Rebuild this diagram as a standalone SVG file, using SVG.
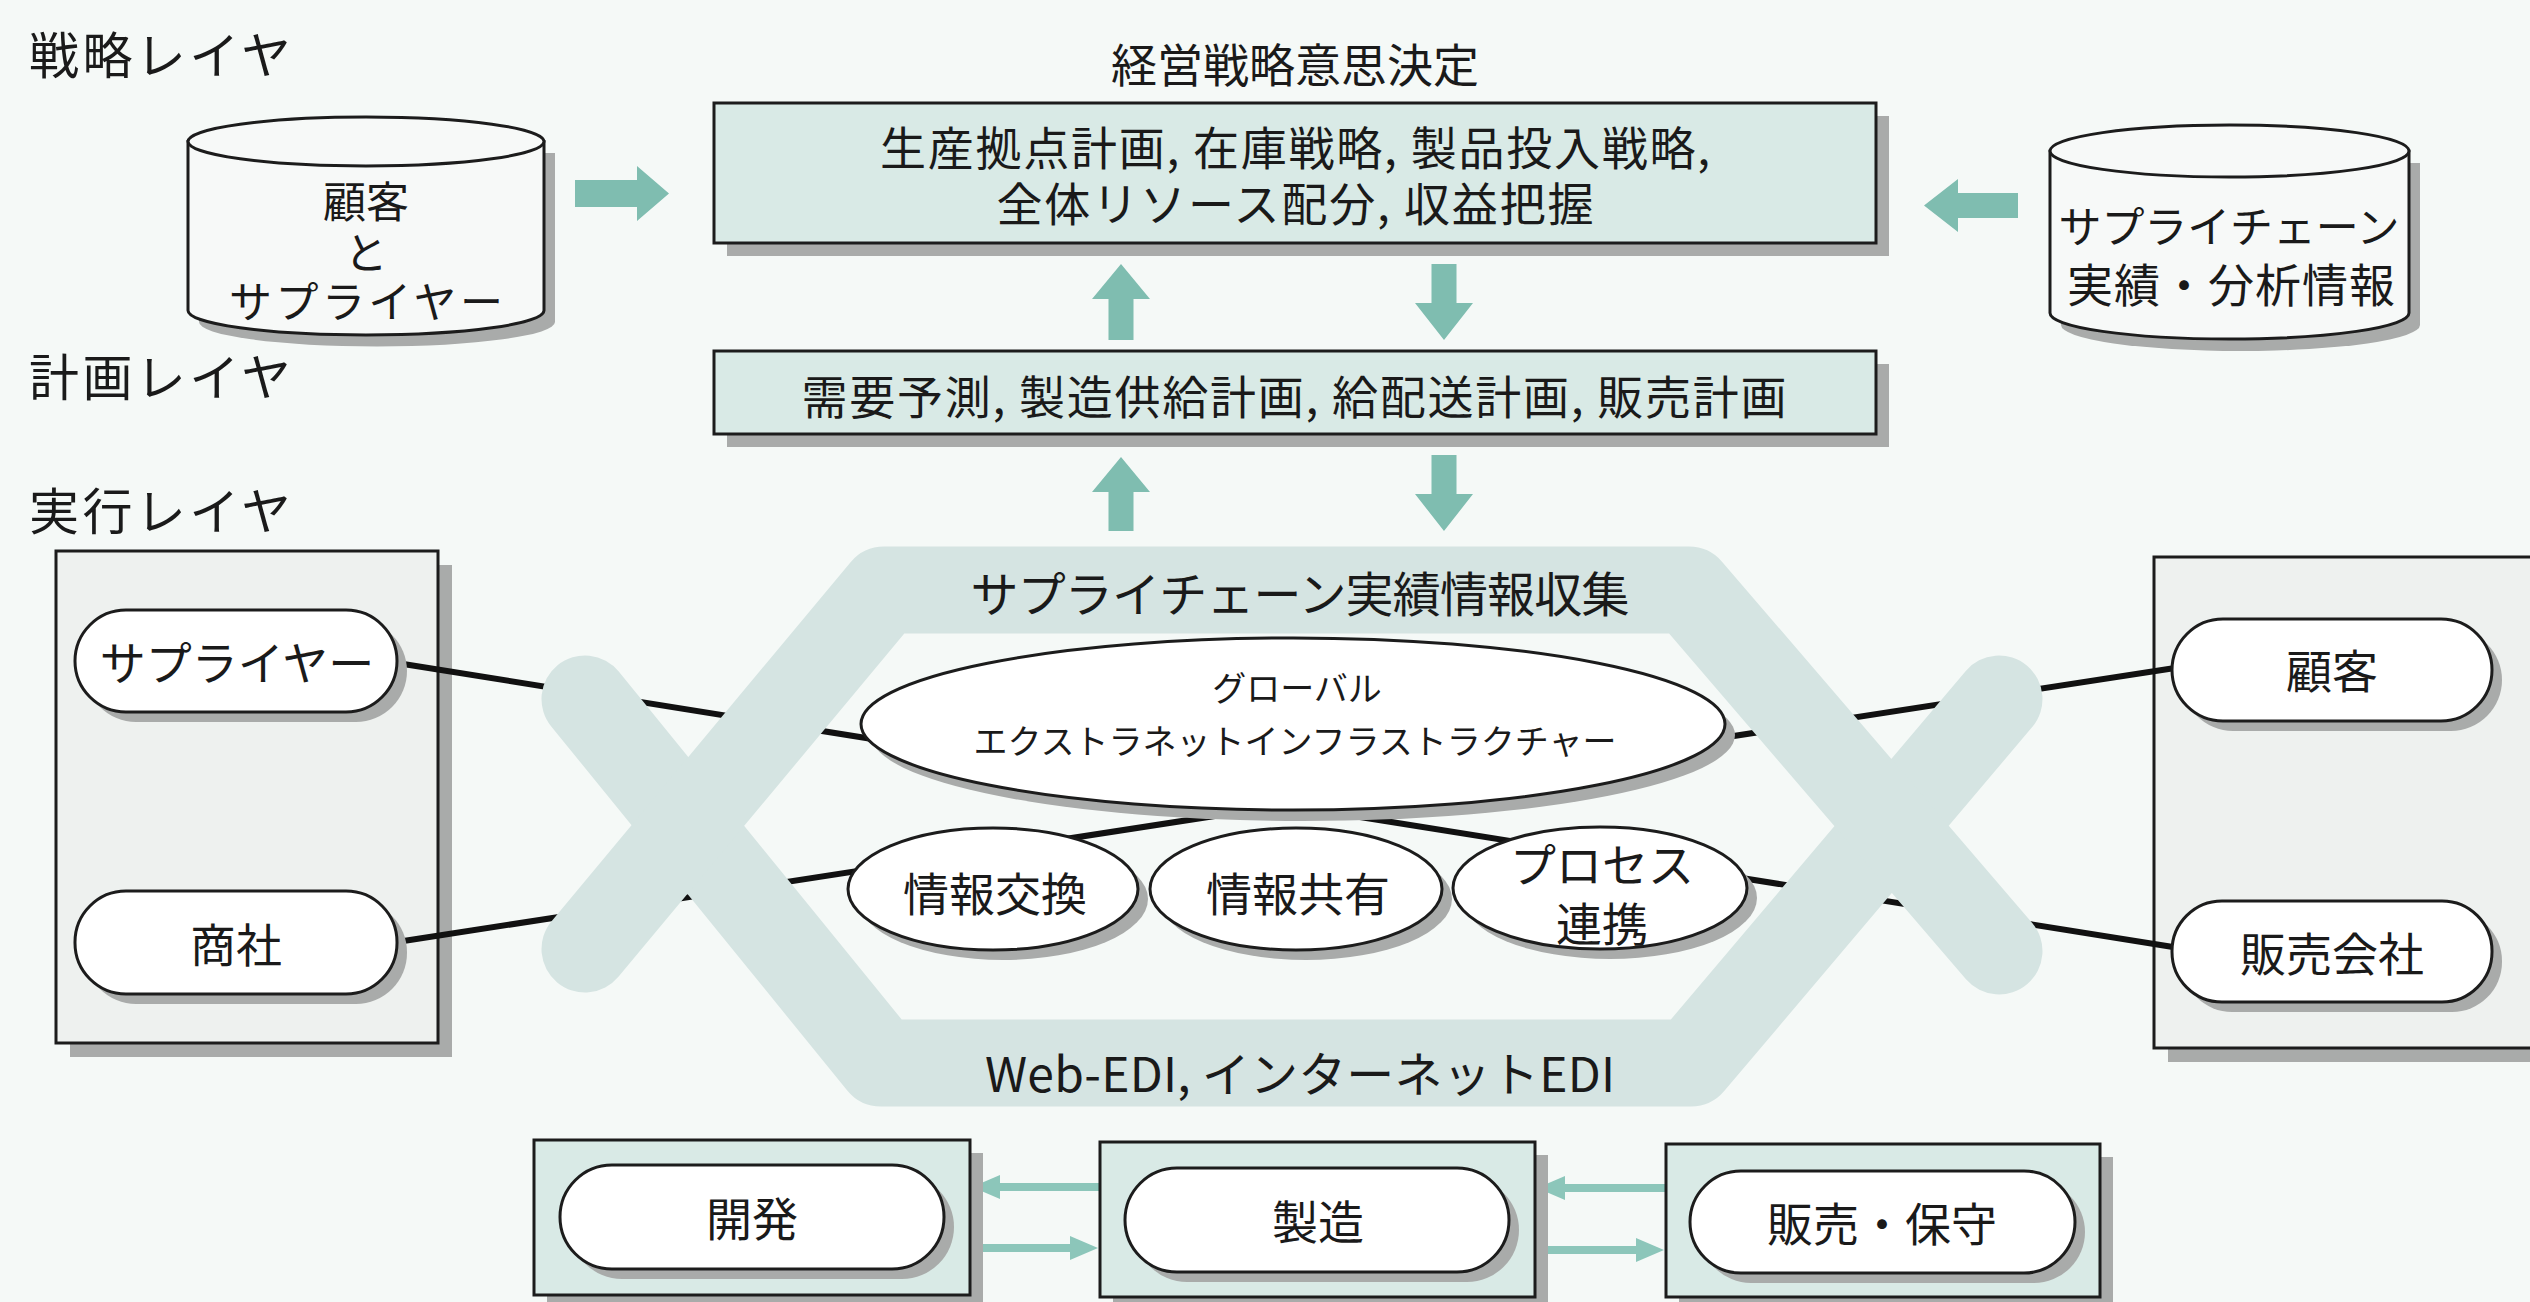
<svg xmlns="http://www.w3.org/2000/svg" width="2530" height="1302" viewBox="0 0 2530 1302">
<defs>
<style>
.bg{fill:#f5f9f7}
.sh{fill:#a9abaa}
.box{fill:#d9eae6;stroke:#1c1c1c;stroke-width:3}
.panel{fill:#eef1ef;stroke:#1c1c1c;stroke-width:3}
.pill{fill:#ffffff;stroke:#1c1c1c;stroke-width:3}
.cyl{fill:#f7f9f8;stroke:#1c1c1c;stroke-width:3}
.t{font-family:"Noto Sans CJK JP","Noto Sans",sans-serif;fill:#1a1a1a;text-anchor:middle;dominant-baseline:central;font-size:46px}
.tl{text-anchor:start;font-size:50px}
.ts{font-size:34px}
.tc{font-size:43px}
.tb{font-size:48px}
.arr{fill:#7fbdb0}
.thin{fill:#8cc6ba}
.band{fill:none;stroke:#d5e4e2;stroke-width:87;stroke-linecap:round;stroke-linejoin:round}
.ln{stroke:#111;stroke-width:6;fill:none}
</style>
</defs>
<rect class="bg" x="0" y="0" width="2530" height="1302"/>

<!-- layer labels -->
<g id="layer-labels">
<text class="t tl" x="29" y="52" textLength="262">戦略レイヤ</text>
<text class="t tl" x="29" y="374" textLength="262">計画レイヤ</text>
<text class="t tl" x="29" y="508" textLength="262">実行レイヤ</text>
</g>

<!-- panels -->
<g id="panel-left">
<rect class="sh" x="70" y="565" width="382" height="492"/>
<rect class="panel" x="56" y="551" width="382" height="492"/>
</g>
<g id="panel-right">
<rect class="sh" x="2168" y="571" width="400" height="491"/>
<rect class="panel" x="2154" y="557" width="400" height="491"/>
</g>

<!-- connectors -->
<g id="connectors">
<line class="ln" x1="397" y1="663" x2="2173" y2="947"/>
<line class="ln" x1="397" y1="942" x2="2175" y2="668"/>
<path class="arr" d="M575 180H637V166L669 193.5L637 221V207H575Z"/>
<path class="arr" d="M2018 193H1958V179L1924 205.5L1958 232V218H2018Z"/>
<path class="arr" d="M1108.5 340V299H1092L1121 264L1150 299H1133.5V340Z"/>
<path class="arr" d="M1431.5 264V303H1415L1444 340L1473 303H1456.5V264Z"/>
<path class="arr" d="M1108.5 531V492H1092L1121 457L1150 492H1133.5V531Z"/>
<path class="arr" d="M1431.5 455V494H1415L1444 531L1473 494H1456.5V455Z"/>
<path class="thin" d="M1100 1183H1000V1175L972 1187L1000 1199V1191H1100Z"/>
<path class="thin" d="M970 1244H1070V1236L1098 1248L1070 1260V1252H970Z"/>
<path class="thin" d="M1666 1184H1565V1176L1537 1188L1565 1200V1192H1666Z"/>
<path class="thin" d="M1535 1246H1636V1238L1664 1250L1636 1262V1254H1535Z"/>
</g>

<!-- hexagon band -->
<g id="extranet-band">
<path class="band" d="M585 699L881 1063L1691 1063L1999 699"/>
<path class="band" d="M585 949L884 590L1689 590L1999 951"/>
<text class="t tb" x="1300" y="591" textLength="659">サプライチェーン実績情報収集</text>
<text class="t tb" x="1300" y="1071" textLength="630">Web-EDI, インターネットEDI</text>
</g>

<!-- cylinders -->
<g id="cyl-customer-supplier">
<path class="sh" d="M199 153V322A178 24.5 0 0 0 555 322V153Z"/>
<path class="cyl" d="M188 141.5V310.5A178 24.5 0 0 0 544 310.5V141.5Z"/>
<ellipse class="cyl" cx="366" cy="141.5" rx="178" ry="24.5"/>
<text class="t tc" x="366" y="199">顧客</text>
<text class="t tc" x="366" y="250">と</text>
<text class="t tc" x="366" y="299" textLength="274">サプライヤー</text>
</g>
<g id="cyl-sc-info">
<path class="sh" d="M2061 163V325A179.5 26 0 0 0 2420 325V163Z"/>
<path class="cyl" d="M2050 151V313A179.5 26 0 0 0 2409 313V151Z"/>
<ellipse class="cyl" cx="2229.5" cy="151" rx="179.5" ry="26"/>
<text class="t tc" x="2229" y="224" textLength="341">サプライチェーン</text>
<text class="t" x="2231" y="282" textLength="328">実績・分析情報</text>
</g>

<!-- strategy box -->
<text class="t" x="1295" y="62">経営戦略意思決定</text>
<g id="strategy-box">
<rect class="sh" x="727" y="116" width="1162" height="140"/>
<rect class="box" x="714" y="103" width="1162" height="140"/>
<text class="t" x="1295" y="145" textLength="830">生産拠点計画, 在庫戦略, 製品投入戦略,</text>
<text class="t" x="1295" y="201" textLength="597">全体リソース配分, 収益把握</text>
</g>
<g id="planning-box">
<rect class="sh" x="727" y="364" width="1162" height="83"/>
<rect class="box" x="714" y="351" width="1162" height="83"/>
<text class="t" x="1294" y="394" textLength="985">需要予測, 製造供給計画, 給配送計画, 販売計画</text>
</g>

<!-- pills -->
<g id="supplier">
<rect class="sh" x="85" y="620" width="322" height="102" rx="51"/>
<rect class="pill" x="75" y="610" width="322" height="102" rx="51"/>
<text class="t" x="237" y="660">サプライヤー</text>
</g>
<g id="trading">
<rect class="sh" x="85" y="901" width="322" height="103" rx="51"/>
<rect class="pill" x="75" y="891" width="322" height="103" rx="51"/>
<text class="t" x="236" y="942">商社</text>
</g>
<g id="customer">
<rect class="sh" x="2182" y="629" width="320" height="102" rx="51"/>
<rect class="pill" x="2172" y="619" width="320" height="102" rx="51"/>
<text class="t" x="2332" y="668">顧客</text>
</g>
<g id="sales-company">
<rect class="sh" x="2182" y="911" width="320" height="101" rx="50"/>
<rect class="pill" x="2172" y="901" width="320" height="101" rx="50"/>
<text class="t" x="2332" y="951">販売会社</text>
</g>

<!-- ellipses -->
<g id="global-extranet">
<ellipse class="sh" cx="1303" cy="735" rx="432" ry="86"/>
<ellipse class="pill" cx="1293" cy="724" rx="432" ry="86"/>
<text class="t ts" x="1297" y="686">グローバル</text>
<text class="t ts" x="1295" y="739">エクストラネットインフラストラクチャー</text>
</g>
<g id="info-exchange">
<ellipse class="sh" cx="1003" cy="899" rx="145" ry="61"/>
<ellipse class="pill" cx="993" cy="889" rx="145" ry="61"/>
<text class="t" x="995" y="891">情報交換</text>
</g>
<g id="info-sharing">
<ellipse class="sh" cx="1306" cy="899" rx="146" ry="61"/>
<ellipse class="pill" cx="1296" cy="889" rx="146" ry="61"/>
<text class="t" x="1298" y="891">情報共有</text>
</g>
<g id="process-link">
<ellipse class="sh" cx="1610" cy="898" rx="147" ry="61"/>
<ellipse class="pill" cx="1600" cy="888" rx="147" ry="61"/>
<text class="t" x="1602" y="862">プロセス</text>
<text class="t" x="1602" y="921">連携</text>
</g>

<!-- bottom row -->
<g id="dev">
<rect class="sh" x="547" y="1153" width="436" height="155"/>
<rect class="box" x="534" y="1140" width="436" height="155"/>
<rect class="sh" x="570" y="1175" width="384" height="104" rx="52"/>
<rect class="pill" x="560" y="1165" width="384" height="104" rx="52"/>
<text class="t" x="752" y="1216">開発</text>
</g>
<g id="mfg">
<rect class="sh" x="1113" y="1155" width="435" height="155"/>
<rect class="box" x="1100" y="1142" width="435" height="155"/>
<rect class="sh" x="1135" y="1178" width="384" height="104" rx="52"/>
<rect class="pill" x="1125" y="1168" width="384" height="104" rx="52"/>
<text class="t" x="1318" y="1219">製造</text>
</g>
<g id="sales-maint">
<rect class="sh" x="1679" y="1157" width="434" height="153"/>
<rect class="box" x="1666" y="1144" width="434" height="153"/>
<rect class="sh" x="1700" y="1181" width="385" height="102" rx="51"/>
<rect class="pill" x="1690" y="1171" width="385" height="102" rx="51"/>
<text class="t" x="1882" y="1221">販売・保守</text>
</g>
</svg>
